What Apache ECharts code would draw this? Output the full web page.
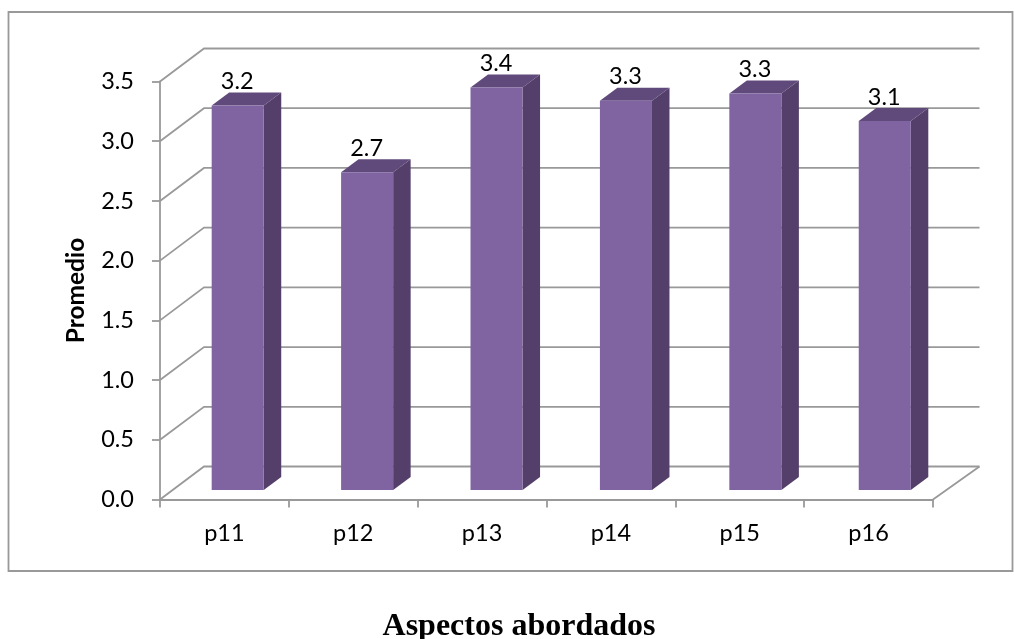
<!DOCTYPE html>
<html>
<head>
<meta charset="utf-8">
<style>html,body{margin:0;padding:0;background:#fff}#c{width:1014px;height:639px}</style>
<script src="https://cdn.jsdelivr.net/npm/echarts@6/dist/echarts.min.js"></script>
</head>
<body>
<div id="c"></div>
<script>
// Average score per surveyed item
var categories = ['p11', 'p12', 'p13', 'p14', 'p15', 'p16'];
var promedio = [3.22, 2.66, 3.37, 3.26, 3.32, 3.09];
var yTicks = [0, 0.5, 1.0, 1.5, 2.0, 2.5, 3.0, 3.5];

// Oblique projection of the chart box and of the bars inside it
var WALL_DX_LEFT = 44, WALL_DX_RIGHT = 46.5, WALL_DY = -33;
var BAR_IN_DX = 13, BAR_IN_DY = -9.5, BAR_SPREAD = 1.0045;
var BAR_DX = 17.5, BAR_DY = -13;
var GRID_GREY = '#999999';
var TEXT_FONT = 'Lato';
var TEXT_SIZE = 23.5;

var chart = echarts.init(document.getElementById('c'), null, {renderer: 'canvas'});

function renderWallLine(params, api) {
  var cs = params.coordSys;
  var p = api.coord([0, api.value(1)]);
  var x0 = cs.x, y0 = p[1];
  return {
    type: 'polyline',
    shape: {points: [[x0, y0], [x0 + WALL_DX_LEFT, y0 + WALL_DY], [x0 + cs.width + WALL_DX_RIGHT, y0 + WALL_DY]]},
    style: {stroke: GRID_GREY, lineWidth: 1.8, fill: null},
    silent: true
  };
}

function renderFloorEdge(params, api) {
  var cs = params.coordSys;
  var x1 = cs.x + cs.width, y1 = cs.y + cs.height;
  return {
    type: 'line',
    shape: {x1: x1, y1: y1, x2: x1 + WALL_DX_RIGHT, y2: y1 + WALL_DY},
    style: {stroke: GRID_GREY, lineWidth: 1.8},
    silent: true
  };
}

function renderBar(params, api) {
  var cs = params.coordSys;
  var idx = api.value(0), val = api.value(1);
  var band = api.size([1, 0])[0];
  var w = band * 0.404;
  var top = api.coord([idx, val]);
  var base = api.coord([idx, 0]);
  var xl = cs.x + (top[0] - cs.x) * BAR_SPREAD - w / 2 + BAR_IN_DX;
  var xr = xl + w;
  var yt = top[1] + BAR_IN_DY;
  var yb = base[1] + BAR_IN_DY;
  return {
    type: 'group',
    children: [
      {type: 'polygon', shape: {points: [[xr, yt], [xr + BAR_DX, yt + BAR_DY], [xr + BAR_DX, yb + BAR_DY], [xr, yb]]},
        style: {fill: '#533F69'}},
      {type: 'polygon', shape: {points: [[xl, yt], [xl + BAR_DX, yt + BAR_DY], [xr + BAR_DX, yt + BAR_DY], [xr, yt]]},
        style: {fill: '#604A7B'}},
      {type: 'rect', shape: {x: xl, y: yt, width: w, height: yb - yt},
        style: {fill: '#8064A2'}},
      {type: 'text', style: {
        x: xl + w / 2 - 0.5, y: yt + BAR_DY + 1,
        text: val.toFixed(1), fill: '#000', align: 'center', verticalAlign: 'bottom',
        font: TEXT_SIZE + 'px ' + TEXT_FONT
      }}
    ]
  };
}

chart.setOption({
  animation: false,
  backgroundColor: '#fff',
  grid: {left: 160, right: 81, top: 81.5, bottom: 139.5, containLabel: false},
  xAxis: {
    type: 'category',
    data: categories,
    boundaryGap: true,
    axisLine: {lineStyle: {color: GRID_GREY, width: 1.8}},
    axisTick: {show: true, alignWithLabel: false, length: 8, lineStyle: {color: GRID_GREY, width: 1.8}},
    axisLabel: {color: '#000', fontFamily: TEXT_FONT, fontSize: TEXT_SIZE, margin: 22}
  },
  yAxis: {
    type: 'value',
    min: 0, max: 3.5, interval: 0.5,
    name: 'Promedio',
    nameLocation: 'middle',
    nameGap: 71,
    nameTextStyle: {color: '#000', fontFamily: TEXT_FONT, fontWeight: 'bold', fontSize: 24.5},
    axisLine: {show: true, lineStyle: {color: GRID_GREY, width: 1.8}},
    axisTick: {show: true, length: 8, lineStyle: {color: GRID_GREY, width: 1.8}},
    axisLabel: {color: '#000', fontFamily: TEXT_FONT, fontSize: TEXT_SIZE, margin: 26,
      padding: [7, 0, 0, 0],
      formatter: function (v) { return v.toFixed(1); }},
    splitLine: {show: false}
  },
  series: [
    {type: 'custom', coordinateSystem: 'cartesian2d', renderItem: renderWallLine,
      data: yTicks.map(function (v) { return [0, v]; }), z: 1, silent: true},
    {type: 'custom', coordinateSystem: 'cartesian2d', renderItem: renderFloorEdge,
      data: [[0, 0]], z: 1, silent: true},
    {type: 'custom', coordinateSystem: 'cartesian2d', renderItem: renderBar,
      data: promedio.map(function (v, i) { return [i, v]; }), z: 3, silent: true}
  ],
  graphic: [
    {type: 'rect', z: -1, shape: {x: 8.5, y: 12, width: 1004, height: 559},
      style: {fill: null, stroke: '#999999', lineWidth: 1.8}},
    {type: 'text', z: 5, style: {x: 519, y: 627, text: 'Aspectos abordados', fill: '#000',
      align: 'center', verticalAlign: 'middle', font: 'bold 32px "Liberation Serif"'}}
  ]
});
</script>
</body>
</html>
